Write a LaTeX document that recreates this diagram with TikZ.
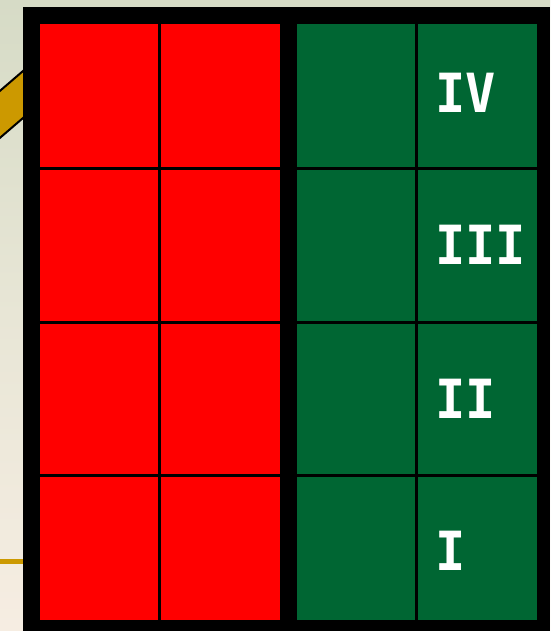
\documentclass[tikz,border=0pt]{standalone}
\usepackage{fontspec}
\newfontfamily\numfont{DejaVu Sans Mono}
\definecolor{cellred}{HTML}{FF0000}
\definecolor{cellgreen}{HTML}{006633}
\definecolor{gold}{HTML}{CC9900}
\definecolor{bgtop}{HTML}{D6DBC6}
\definecolor{bgmid}{HTML}{E8E6D6}
\definecolor{bgbot}{HTML}{F6EDE2}
\tikzset{
  cell/.style={draw=none, inner sep=0pt, outer sep=0pt, anchor=north west},
  redcell/.style={cell, fill=cellred},
  greencell/.style={cell, fill=cellgreen},
  numeral/.style={text=white, inner sep=0pt, anchor=base west, font=\numfont\bfseries\fontsize{54}{54}\selectfont, xscale=0.93},
}
\begin{document}
\begin{tikzpicture}[x=1pt,y=-1pt]
\useasboundingbox (0,0) rectangle (550,631);
% background
\shade[top color=bgtop, bottom color=bgbot, middle color=bgmid] (0,0) rectangle (550,631);
% gold bar at top left
\fill[gold, draw=black, line width=2pt] (-6,96) -- (30,65) -- (30,112) -- (-6,143) -- cycle;
% gold line at bottom left
\fill[gold] (0,559) rectangle (30,564);
% frame
\node[cell, fill=black, minimum width=527, minimum height=624] (frame) at (23,7) {};
% cells
\foreach \r/\y/\h in {1/24/143.5, 2/170.5/150.5, 3/324/149.7, 4/476.7/143.3}{
  \node[redcell, minimum width=117.5, minimum height=\h] (r\r a) at (40,\y) {};
  \node[redcell, minimum width=119.5, minimum height=\h] (r\r b) at (160.5,\y) {};
  \node[greencell, minimum width=118.3, minimum height=\h] (g\r a) at (296.7,\y) {};
  \node[greencell, minimum width=119.3, minimum height=\h] (g\r b) at (417.7,\y) {};
}
% numerals
\node[numeral] (n4) at (435,112.5) {IV};
\node[numeral] (n3) at (435,264) {III};
\node[numeral] (n2) at (435,418) {II};
\node[numeral] (n1) at (435,570.5) {I};
\end{tikzpicture}
\end{document}
